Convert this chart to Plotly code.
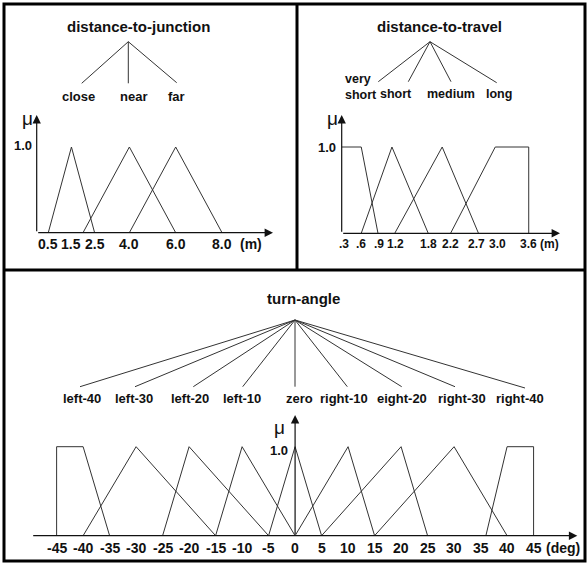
import plotly.graph_objects as go

W, H = 587, 563
FONT = "Liberation Sans, Arial, Helvetica, sans-serif"
INK = "#111111"
CURVE = "#333333"

# ---------------- data: linguistic terms and membership breakpoints ----------------
# distance-to-junction, metres
junction_terms = ["close", "near", "far"]
junction_x = [[0.5, 1.5, 2.5], [2.0, 4.0, 6.0], [4.0, 6.0, 8.0]]
junction_mu = [[0, 1, 0], [0, 1, 0], [0, 1, 0]]
junction_ticks = [0.5, 1.5, 2.5, 4.0, 6.0, 8.0]
junction_ticktext = ["0.5", "1.5", "2.5", "4.0", "6.0", "8.0"]

# distance-to-travel, metres
travel_terms = ["very<br>short", "short", "medium", "long"]
travel_x = [[0.25, 0.6, 0.9], [0.6, 1.15, 1.8], [1.2, 2.05, 2.7], [2.2, 3.0, 3.6, 3.6]]
travel_mu = [[1, 1, 0], [0, 1, 0], [0, 1, 0], [0, 1, 1, 0]]
travel_ticks = [0.3, 0.6, 0.9, 1.2, 1.8, 2.2, 2.7, 3.0, 3.6]
travel_ticktext = [".3", ".6", ".9", "1.2", "1.8", "2.2", "2.7", "3.0", "3.6"]

# turn-angle, degrees
turn_terms = ["left-40", "left-30", "left-20", "left-10", "zero",
              "right-10", "eight-20", "right-30", "right-40"]
turn_x = [[-45, -45, -40, -35], [-40, -30, -15], [-25, -20, -5], [-15, -10, 0],
          [-5, 0, 5], [0, 10, 15], [5, 20, 25], [15, 30, 40], [36, 40, 45, 45]]
turn_mu = [[0, 1, 1, 0], [0, 1, 0], [0, 1, 0], [0, 1, 0],
           [0, 1, 0], [0, 1, 0], [0, 1, 0], [0, 1, 0], [0, 1, 1, 0]]
turn_ticks = list(range(-45, 50, 5))
turn_ticktext = [str(t) for t in turn_ticks]


def px(x):
    return x / W


def py(y):
    return 1 - y / H


# ---------------- panel geometry (pixels) ----------------
panels = [
    dict(name="distance-to-junction", terms=junction_terms, xs=junction_x, mus=junction_mu,
         ticks=junction_ticks, ticktext=junction_ticktext, tick_size=14, term_size=13,
         tick_nudge=None, tick_drop=10.8,
         unit="(m)", unit_pos=(251, 243.5),
         left=36.7, right=273.0, base=232.7, top=115.0, one=147.0, xr=(0.0, 10.2), yaxis_at=0.0,
         title_pos=(138, 26.5), apex=(128.3, 41.7),
         feet=[(81.7, 83.3), (128.3, 83.3), (176.7, 82.7)],
         label_pos=[(78.3, 96.5), (133.3, 96.5), (176.0, 96.5)],
         mu_pos=(27, 118), one_pos=(22.5, 146)),
    dict(name="distance-to-travel", terms=travel_terms, xs=travel_x, mus=travel_mu,
         ticks=travel_ticks, ticktext=travel_ticktext, tick_size=12, term_size=12.5,
         tick_nudge=[0, 0, 1, 1, 0, 0, -1.5, 2, 0], tick_drop=10.8,
         unit="(m)", unit_pos=(549, 244),
         left=341.7, right=560.0, base=233.3, top=115.0, one=147.0, xr=(0.25, 4.16), yaxis_at=0.25,
         title_pos=(439, 26.5), apex=(430, 41.7),
         feet=[(378.3, 81.7), (408.3, 81.7), (451, 81.7), (496.7, 82.7)],
         label_pos=[(343.5, 86.5), (396, 94.5), (451, 94.5), (499.3, 94.5)],
         mu_pos=(332, 118), one_pos=(327, 147)),
    dict(name="turn-angle", terms=turn_terms, xs=turn_x, mus=turn_mu,
         ticks=turn_ticks, ticktext=turn_ticktext, tick_size=14, term_size=13,
         tick_nudge=None, tick_drop=12,
         unit="(deg)", unit_pos=(563.3, 547.7),
         left=31.7, right=577.3, base=535.7, top=415.0, one=446.7, xr=(-49.7, 53.25), yaxis_at=0.0,
         title_pos=(303.5, 298.5), apex=(295, 320),
         feet=[(80, 386.7), (135, 386.7), (193.3, 386.7), (242.7, 386.7), (295, 386.7),
               (347.3, 386.7), (401.7, 386.7), (455, 386.7), (525, 388)],
         label_pos=[(82.3, 398.5), (134, 398.5), (190, 398.5), (241.7, 398.5), (299.5, 398.5),
                    (343.7, 398.5), (402.3, 398.5), (461.7, 398.5), (520, 398.5)],
         mu_pos=(279, 427), one_pos=(279, 450.7)),
]


def label(x, y, text, size, bold=True, anchor="center"):
    return dict(x=px(x), y=py(y), xref="paper", yref="paper", text=text, showarrow=False,
                xanchor=anchor, yanchor="middle", align="left", borderpad=0,
                font=dict(family=FONT, size=size, color=INK,
                          weight="bold" if bold else "normal"))


fig = go.Figure()
annotations = []
shapes = []
layout_axes = {}

for i, p in enumerate(panels, start=1):
    xa = "x" if i == 1 else f"x{i}"
    ya = "y" if i == 1 else f"y{i}"
    ymax = (p["base"] - p["top"]) / (p["base"] - p["one"])

    # membership functions
    for xs, mus in zip(p["xs"], p["mus"]):
        fig.add_trace(go.Scatter(x=xs, y=mus, mode="lines", xaxis=xa, yaxis=ya,
                                 line=dict(color=CURVE, width=1), hoverinfo="skip",
                                 showlegend=False))

    layout_axes["xaxis" if i == 1 else f"xaxis{i}"] = dict(
        domain=[px(p["left"]), px(p["right"])], range=list(p["xr"]), anchor=ya,
        showgrid=False, zeroline=False, showline=False, ticks="", showticklabels=False,
        fixedrange=True)
    layout_axes["yaxis" if i == 1 else f"yaxis{i}"] = dict(
        domain=[py(p["base"]), py(p["top"])], range=[0, ymax], anchor=xa,
        showgrid=False, zeroline=False, showline=False, showticklabels=False,
        ticks="", fixedrange=True)

    # tick labels under the value axis (a few crowded ones nudged apart)
    nudge = p["tick_nudge"] or [0] * len(p["ticks"])
    for tv, tt, dx in zip(p["ticks"], p["ticktext"], nudge):
        annotations.append(dict(x=tv, y=0, xref=xa, yref=ya, text=tt, showarrow=False,
                                xanchor="center", yanchor="middle", borderpad=0,
                                xshift=dx, yshift=-p["tick_drop"],
                                font=dict(family=FONT, size=p["tick_size"], color=INK,
                                          weight="bold")))

    # axes with arrowheads
    arrow = dict(xref=xa, yref=ya, axref=xa, ayref=ya, text="", showarrow=True,
                 arrowhead=2, arrowsize=1.4, arrowwidth=1.2, arrowcolor=INK,
                 standoff=0, startstandoff=0)
    annotations.append(dict(x=p["xr"][1], y=0, ax=p["xr"][0], ay=0, **arrow))
    annotations.append(dict(x=p["yaxis_at"], y=ymax, ax=p["yaxis_at"], ay=0, **arrow))

    # unit, mu and 1.0 labels
    annotations.append(label(*p["unit_pos"], p["unit"], p["tick_size"]))
    annotations.append(label(*p["mu_pos"], "\u03bc", 19, bold=False))
    annotations.append(label(*p["one_pos"], "1.0", 13))

    # variable name and its term tree
    annotations.append(label(*p["title_pos"], p["name"], 15))
    ax0, ay0 = p["apex"]
    for (fx, fy), (lx, ly), term in zip(p["feet"], p["label_pos"], p["terms"]):
        shapes.append(dict(type="line", xref="paper", yref="paper",
                           x0=px(ax0), y0=py(ay0), x1=px(fx), y1=py(fy),
                           line=dict(color=CURVE, width=1)))
        anchor = "left" if "<br>" in term else "center"
        annotations.append(label(lx, ly, term, p["term_size"], anchor=anchor))

# panel frames
frame = dict(color="#000000", width=3)
shapes.append(dict(type="rect", xref="paper", yref="paper", x0=px(4), x1=px(585),
                   y0=py(561), y1=py(4), line=frame))
shapes.append(dict(type="line", xref="paper", yref="paper", x0=px(4), x1=px(585),
                   y0=py(270), y1=py(270), line=frame))
shapes.append(dict(type="line", xref="paper", yref="paper", x0=px(297), x1=px(297),
                   y0=py(270), y1=py(4), line=frame))

fig.update_layout(width=W, height=H, margin=dict(l=0, r=0, t=0, b=0),
                  paper_bgcolor="white", plot_bgcolor="white",
                  showlegend=False, annotations=annotations, shapes=shapes,
                  **layout_axes)

fig.write_html("out.html")
